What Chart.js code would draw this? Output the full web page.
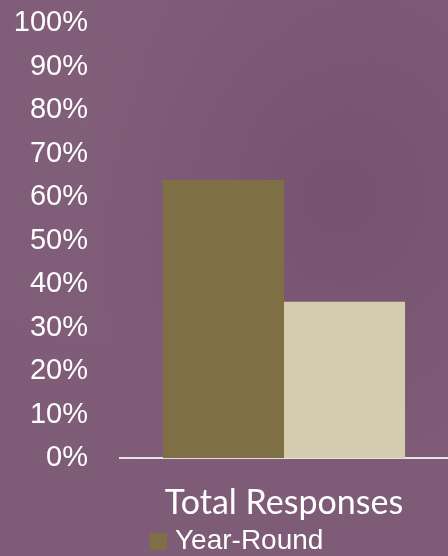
<!DOCTYPE html>
<html>
<head>
<meta charset="utf-8">
<script src="https://cdn.jsdelivr.net/npm/chart.js@4/dist/chart.umd.min.js"></script>
<style>
  html, body {
    margin: 0;
    padding: 0;
    width: 448px;
    height: 556px;
    overflow: hidden;
  }
  body {
    background: #7e5c77;
    background-image:
      radial-gradient(ellipse at 75% 35%, rgba(100, 60, 95, 0.3), rgba(0, 0, 0, 0) 55%),
      radial-gradient(ellipse at 20% 20%, rgba(140, 105, 130, 0.2), rgba(0, 0, 0, 0) 60%);
    position: relative;
  }
  #wrap {
    position: absolute;
    left: 0;
    top: -26px;
    width: 448px;
    height: 620px;
  }
  #legend {
    position: absolute;
    left: 150px;
    top: 525px;
    font-family: "Liberation Sans", Arial, sans-serif;
    font-size: 28px;
    color: #ffffff;
    line-height: 30px;
  }
  #legend .item {
    display: flex;
    align-items: center;
    white-space: nowrap;
  }
  #legend .box {
    width: 17px;
    height: 17px;
    margin-right: 8px;
    margin-top: 3px;
  }
</style>
</head>
<body>
<div id="wrap"><canvas id="chart" width="448" height="620"></canvas></div>
<div id="legend"></div>
<script>
// categories and series
const categories = ['Total Responses'];
const seriesNames = ['Year-Round', 'Seasonal'];
const yearRound = [64];
const seasonal = [36];
const seriesColors = ['#7f6f45', '#d5cbae'];

const yTickMin = 0;
const yTickMax = 100;
const yTickStep = 10;

const chart = new Chart(document.getElementById('chart'), {
  type: 'bar',
  data: {
    labels: categories,
    datasets: [
      {
        label: seriesNames[0],
        data: yearRound,
        backgroundColor: seriesColors[0],
        borderWidth: 0
      },
      {
        label: seriesNames[1],
        data: seasonal,
        backgroundColor: seriesColors[1],
        borderWidth: 0
      }
    ]
  },
  options: {
    responsive: false,
    animation: false,
    categoryPercentage: 0.738,
    barPercentage: 1,
    layout: {
      padding: { top: 0, right: 0, bottom: 47, left: 0 }
    },
    plugins: {
      legend: { display: false },
      tooltip: { enabled: false }
    },
    scales: {
      x: {
        grid: { display: false, drawTicks: false },
        border: { display: true, color: '#e4e4e4', width: 2 },
        ticks: {
          color: '#ffffff',
          padding: 24,
          font: { family: 'Lato', size: 34 }
        }
      },
      y: {
        min: yTickMin,
        max: yTickMax,
        grid: { display: false, drawTicks: false },
        border: { display: false },
        afterFit: (scale) => {
          scale.width = 120;
        },
        ticks: {
          stepSize: yTickStep,
          color: '#ffffff',
          padding: 32,
          font: { family: '"Liberation Sans"', size: 29 },
          callback: (value) => value + '%'
        }
      }
    }
  }
});

// simple html legend, one entry per line
const legendEl = document.getElementById('legend');
chart.data.datasets.forEach((ds) => {
  const item = document.createElement('div');
  item.className = 'item';
  const box = document.createElement('span');
  box.className = 'box';
  box.style.background = ds.backgroundColor;
  const text = document.createElement('span');
  text.textContent = ds.label;
  item.appendChild(box);
  item.appendChild(text);
  legendEl.appendChild(item);
});
</script>
</body>
</html>
